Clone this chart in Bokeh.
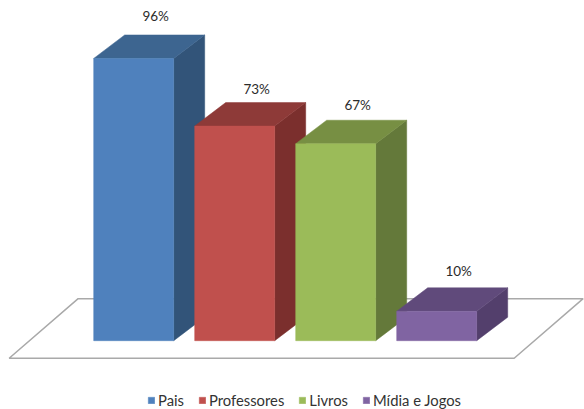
from bokeh.plotting import figure
from bokeh.models import Range1d, Legend, LegendItem, ColumnDataSource
from bokeh.core.properties import value
from bokeh.embed import file_html
from bokeh.resources import INLINE

categories = ["Pais", "Professores", "Livros", "Mídia e Jogos"]
values = [96, 73, 67, 10]
labels = ["96%", "73%", "67%", "10%"]
front_colors = ["#4F81BD", "#C0504D", "#9BBB59", "#8064A2"]
top_colors = ["#3D6590", "#8E3A38", "#778F43", "#604A7B"]
side_colors = ["#325479", "#7B2F2D", "#64793A", "#533F6C"]

W, H = 584, 409
pitch = 101.0       # px per category
scale = 2.94        # px per percent
x0_px, y0_px = 133.2, 340.2
bar_w = 80 / pitch
dx = 31 / pitch
dy = 23.5 / scale

p = figure(width=W, height=H, output_backend="svg", toolbar_location=None,
           x_range=Range1d(-x0_px / pitch, (W - x0_px) / pitch),
           y_range=Range1d(-(H - y0_px) / scale, y0_px / scale),
           min_border=0, outline_line_color=None, background_fill_color="white",
           border_fill_color="white", margin=(0, 0, 0, 0))
p.xaxis.visible = False
p.yaxis.visible = False
p.grid.visible = False

# floor
fl, fr, fd, fb, ft = -1.233, 3.767, 0.683, -5.95, 14.3
p.patch([fl, fr, fr + fd, fl + fd], [fb, fb, ft, ft], fill_color="white",
        line_color="#A9A9A9", line_width=1.5)

items = []
for i, v in enumerate(values):
    l, r = i - bar_w / 2, i + bar_w / 2
    p.patch([r, r + dx, r + dx, r], [0, dy, v + dy, v], fill_color=side_colors[i], line_color=side_colors[i], line_width=0.5)
    p.patch([l, r, r + dx, l + dx], [v, v, v + dy, v + dy], fill_color=top_colors[i], line_color=top_colors[i], line_width=0.5)
    f = p.vbar(x=[i], top=[v], bottom=[0], width=bar_w, fill_color=front_colors[i], line_color=front_colors[i], line_width=0.5)
    items.append(LegendItem(label=categories[i], renderers=[f]))

src = ColumnDataSource(dict(x=list(range(4)), y=values, t=labels, yo=[-42, -37, -39, -40]))
p.text(x="x", y="y", text="t", source=src, text_font=value("Lato"), text_font_size="13.5px",
       text_color="#2b2b2b", text_align="center", text_baseline="middle", x_offset=22, y_offset="yo")

legend = Legend(items=items, orientation="horizontal", location=(147, 0), background_fill_alpha=0,
                border_line_color=None, label_text_font="Lato", label_text_font_size="14.8px",
                label_text_color="#333333", glyph_width=8, glyph_height=8, label_standoff=3,
                spacing=14, padding=0, margin=0, label_height=14, label_text_line_height=1.0)
p.add_layout(legend, "center")

open("out.html", "w").write(file_html(p, INLINE))
